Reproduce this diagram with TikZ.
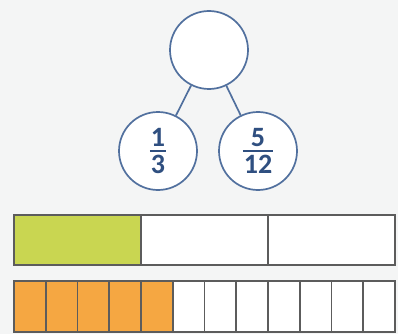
\documentclass[tikz,border=0pt]{standalone}
\usepackage{fontspec}
\setmainfont{Carlito}
\definecolor{bg}{HTML}{F4F5F5}
\definecolor{cblue}{HTML}{51709E}
\definecolor{tblue}{HTML}{2F4F80}
\definecolor{lime}{HTML}{C9D651}
\definecolor{orng}{HTML}{F5A742}
\definecolor{edge}{HTML}{5C5C5C}
\tikzset{
  bond/.style={circle, draw=cblue, line width=1.7pt, fill=white, minimum size=78pt, inner sep=0pt, text=tblue, font=\fontsize{28}{30}\selectfont\bfseries},
  link/.style={draw=cblue, line width=1.7pt},
  cell/.style={draw=edge, line width=1.8pt}
}
\newdimen\fracwd
\newbox\fracnum
\newbox\fracden
\newcommand{\myfrac}[2]{%
  \setbox\fracnum=\hbox{#1}\setbox\fracden=\hbox{#2}%
  \fracwd=\wd\fracnum
  \ifdim\wd\fracden>\fracwd \fracwd=\wd\fracden\fi
  \advance\fracwd by 2pt
  \vbox{\hbox to\fracwd{\hss\box\fracnum\hss}\kern3pt\hrule height 2pt\kern3pt\hbox to\fracwd{\hss\box\fracden\hss}}}
\begin{document}
\begin{tikzpicture}[x=1pt,y=-1pt]
\fill[bg] (0,0) rectangle (398,334);
\useasboundingbox (0,0) rectangle (398,334);
\node[bond] (top) at (209,50) {};
\node[bond] (left) at (158,151) {\myfrac{1}{3}};
\node[bond] (right) at (258,151) {\myfrac{5}{12}};
\draw[link] (top) -- (left);
\draw[link] (top) -- (right);
% thirds bar
\foreach \i in {0,1,2} {
  \pgfmathsetmacro{\xa}{14+\i*127}
  \pgfmathsetmacro{\xb}{14+(\i+1)*127}
  \ifnum\i=0
    \draw[cell, fill=lime] (\xa,215) rectangle (\xb,265);
  \else
    \draw[cell, fill=white] (\xa,215) rectangle (\xb,265);
  \fi
}
% twelfths bar
\foreach \i in {0,...,11} {
  \pgfmathsetmacro{\xa}{14+\i*381/12}
  \pgfmathsetmacro{\xb}{14+(\i+1)*381/12}
  \ifnum\i<5
    \draw[cell, fill=orng] (\xa,281) rectangle (\xb,332);
  \else
    \draw[cell, fill=white] (\xa,281) rectangle (\xb,332);
  \fi
}
\end{tikzpicture}
\end{document}
